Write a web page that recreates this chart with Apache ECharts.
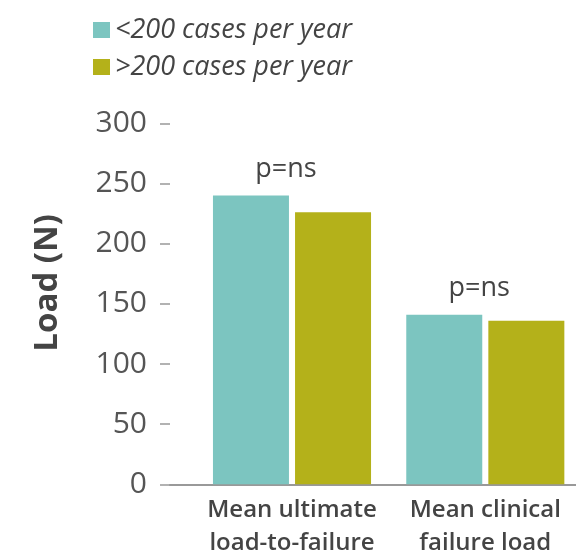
<!DOCTYPE html>
<html>
<head>
<meta charset="utf-8">
<script src="https://cdn.jsdelivr.net/npm/echarts@6/dist/echarts.min.js"></script>
<style>
html,body{margin:0;padding:0;background:#fff;overflow:hidden;}
#c{width:600px;height:555px;}
</style>
</head>
<body>
<div id="c"></div>
<script>
var categories = ['Mean ultimate\nload-to-failure', 'Mean clinical\nfailure load'];
var seriesNames = ['<200 cases per year', '>200 cases per year'];
var lowVolume = [240, 141];
var highVolume = [226, 136];
var pLabels = ['p=ns', 'p=ns'];
var yTicks = { min: 0, max: 300, interval: 50 };

var FONT = '"Open Sans"';
var chart = echarts.init(document.getElementById('c'), null, { renderer: 'canvas' });
var TOP = 123.3, BOTTOM = 70.7;
chart.setOption({
  animation: false,
  textStyle: { fontFamily: FONT },
  color: ['#7cc5c0', '#b4b11a'],
  legend: {
    orient: 'vertical',
    left: 88, top: 8.5,
    itemWidth: 17, itemHeight: 16, itemGap: 4,
    icon: 'rect',
    textStyle: { fontFamily: FONT, fontSize: 27, fontStyle: 'italic', color: '#444', lineHeight: 33 },
    data: seriesNames
  },
  grid: [
    { left: 170, right: 24, top: TOP, bottom: BOTTOM, outerBoundsMode: 'none', containLabel: false },
    { left: 195.35, width: 386.6, top: TOP, bottom: BOTTOM, outerBoundsMode: 'none', containLabel: false }
  ],
  xAxis: [
    { gridIndex: 0, type: 'category', data: [''],
      axisLine: { show: true, lineStyle: { color: '#999', width: 2 } },
      axisTick: { show: false }, axisLabel: { show: false } },
    { gridIndex: 1, type: 'category', data: categories,
      axisLine: { show: false }, axisTick: { show: false },
      axisLabel: { interval: 0, margin: 9, fontFamily: FONT, fontSize: 24, fontWeight: 600,
                   lineHeight: 33, color: '#444' } }
  ],
  yAxis: [
    { gridIndex: 0, type: 'value', min: yTicks.min, max: yTicks.max, interval: yTicks.interval,
      axisLine: { show: false },
      axisTick: { show: true, length: 10, lineStyle: { color: '#999', width: 1.5 } },
      splitLine: { show: false },
      axisLabel: { margin: 23, fontFamily: FONT, fontSize: 30, color: '#555' },
      name: 'Load (N)', nameLocation: 'middle', nameGap: 106, nameRotate: 90,
      nameTextStyle: { fontFamily: FONT, fontSize: 33, fontWeight: 'bold', color: '#444',
                       padding: [0, 0, 0, 42] } },
    { gridIndex: 1, type: 'value', min: yTicks.min, max: yTicks.max, interval: yTicks.interval,
      show: false }
  ],
  series: [
    { name: seriesNames[0], type: 'bar', xAxisIndex: 1, yAxisIndex: 1,
      data: lowVolume, barWidth: 76, barGap: '8%',
      label: { show: true, position: 'top', distance: 13, offset: [35, 0],
               formatter: function (p) { return pLabels[p.dataIndex]; },
               fontFamily: FONT, fontSize: 27, color: '#444' } },
    { name: seriesNames[1], type: 'bar', xAxisIndex: 1, yAxisIndex: 1,
      data: highVolume, barWidth: 76, barGap: '8%' }
  ]
});
</script>
</body>
</html>
